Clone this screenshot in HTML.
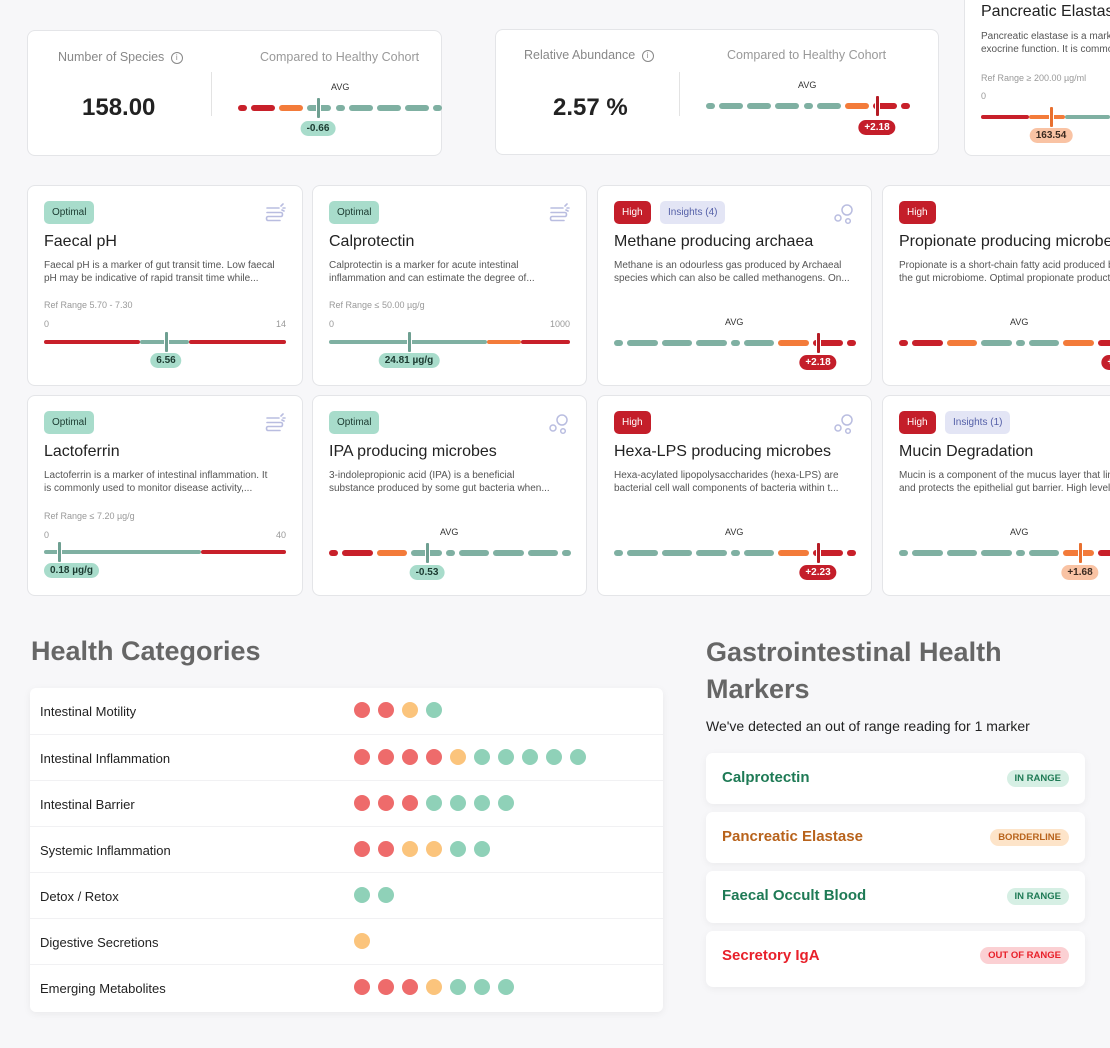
<!DOCTYPE html>
<html><head><meta charset="utf-8">
<style>
*{box-sizing:border-box;margin:0;padding:0}
body{width:1110px;height:1048px;overflow:hidden;background:#f7f7f9;font-family:"Liberation Sans",sans-serif;position:relative;color:#222}
.a{position:absolute}
.card{position:absolute;background:#fff;border:1px solid #e4e5e8;border-radius:8px}
.t{position:absolute;white-space:nowrap}
.badge{position:absolute;height:23px;line-height:23px;padding:0 8px;border-radius:5px;font-size:10px}
.pill{position:absolute;height:15px;line-height:15px;padding:0 6px;border-radius:8px;font-size:10px;font-weight:bold;white-space:nowrap}
.seg{position:absolute;height:6px;border-radius:3px}
.mk{position:absolute;width:3px;height:20px;border-radius:1px}
.desc{position:absolute;font-size:10px;line-height:12.5px;color:#555;white-space:nowrap}
.ttl{position:absolute;font-size:16px;color:#222;white-space:nowrap}
.gray{color:#999;font-size:9px}
.row{position:absolute;left:0;width:633px;height:46px;border-top:1px solid #f1f1f3}
.row span{position:absolute;left:10px;top:16px;font-size:13px;color:#222}
.dot{position:absolute;width:16px;height:16px;border-radius:50%;top:14px}
.mc{position:absolute;left:706px;width:379px;background:#fff;border-radius:7px;box-shadow:0 2px 8px rgba(0,0,0,.05)}
.mc b{position:absolute;left:16px;font-size:15px}
.mc i{position:absolute;right:16px;font-style:normal;font-size:9.5px;font-weight:bold;height:17px;line-height:17px;padding:0 8px;border-radius:9px}
</style></head><body>

<!-- top cards -->
<div class="card" style="left:27px;top:30px;width:415px;height:126px"></div>
<div class="t" style="left:58px;top:50px;font-size:12.5px;color:#888">Number of Species <span style="display:inline-block;width:12px;height:12px;border:1px solid #888;border-radius:50%;font-size:8px;text-align:center;line-height:10px;vertical-align:middle;margin-left:3px">i</span></div>
<div class="t" style="left:82px;top:94px;font-size:24px;font-weight:bold;color:#222">158.00</div>
<div class="a" style="left:211px;top:72px;width:1px;height:44px;background:#e3e3e3"></div>
<div class="t" style="left:260px;top:50px;font-size:12.5px;color:#999">Compared to Healthy Cohort</div>
<div class="t" style="left:331px;top:82px;font-size:9px;color:#333">AVG</div>

<div class="card" style="left:495px;top:29px;width:444px;height:126px"></div>
<div class="t" style="left:524px;top:48px;font-size:12.5px;color:#888">Relative Abundance <span style="display:inline-block;width:12px;height:12px;border:1px solid #888;border-radius:50%;font-size:8px;text-align:center;line-height:10px;vertical-align:middle;margin-left:3px">i</span></div>
<div class="t" style="left:553px;top:94px;font-size:24px;font-weight:bold;color:#222">2.57 %</div>
<div class="a" style="left:679px;top:72px;width:1px;height:44px;background:#e3e3e3"></div>
<div class="t" style="left:727px;top:48px;font-size:12.5px;color:#999">Compared to Healthy Cohort</div>
<div class="t" style="left:798px;top:80px;font-size:9px;color:#333">AVG</div>

<div class="card" style="left:964px;top:-20px;width:170px;height:176px"></div>
<div class="ttl" style="left:981px;top:3px">Pancreatic Elastase</div>
<div class="desc" style="left:981px;top:31px">Pancreatic elastase is a marker of<br>exocrine function. It is commonly</div>
<div class="t gray" style="left:981px;top:73px">Ref Range ≥ 200.00 µg/ml</div>
<div class="t gray" style="left:981px;top:91px">0</div>

<!-- Health categories -->
<div class="t" style="left:31px;top:636px;font-size:27px;font-weight:bold;color:#666">Health Categories</div>
<div class="a" style="left:30px;top:688px;width:633px;height:324px;background:#fff;border-radius:6px;box-shadow:0 2px 8px rgba(0,0,0,.06)" id="tbl"></div>

<div class="t" style="left:706px;top:634px;font-size:27px;font-weight:bold;color:#666;line-height:37px">Gastrointestinal Health<br>Markers</div>
<div class="t" style="left:706px;top:718px;font-size:14px;color:#222">We've detected an out of range reading for 1 marker</div>
<div class="mc" style="top:753px;height:51px"><b style="top:16px;color:#1e7a55">Calprotectin</b><i style="top:17px;background:#d6efe4;color:#1e7a55">IN RANGE</i></div>
<div class="mc" style="top:812px;height:51px"><b style="top:16px;color:#b8631c">Pancreatic Elastase</b><i style="top:17px;background:#fde4c9;color:#b8631c">BORDERLINE</i></div>
<div class="mc" style="top:871px;height:52px"><b style="top:16px;color:#1e7a55">Faecal Occult Blood</b><i style="top:17px;background:#d6efe4;color:#1e7a55">IN RANGE</i></div>
<div class="mc" style="top:931px;height:56px"><b style="top:16px;color:#e8202a">Secretory IgA</b><i style="top:16px;background:#fbd0d3;color:#e8202a">OUT OF RANGE</i></div>

<script>
var R='#c8202a',O='#f37b3a',T='#7fb0a2',B=document.body;
var MK={t:'#6e9f91',r:'#b51c25',o:'#e8702f'};
var PL={t:['#a8dccb','#1b3a30'],r:['#c41e2a','#fff'],o:['#f9c3a4','#3a2a20']};
function el(h){B.insertAdjacentHTML('beforeend',h)}
function pill(cx,y,txt,k,align){var p=PL[k];var pos=align=='l'?'left:'+cx+'px':'left:'+cx+'px;transform:translateX(-50%)';
 el('<div class="pill" style="'+pos+';top:'+(y-7)+'px;background:'+p[0]+';color:'+p[1]+'">'+txt+'</div>')}
function marker(x,y,k){el('<div class="mk" style="left:'+(x-1.5)+'px;top:'+(y-10)+'px;background:'+MK[k]+';box-shadow:0 0 0 1px #fff"></div>')}
function avg(x,y,w,cols,mx,k,lab,ly){var d=9,g=4,L=(w-3*d-8*g)/6,cx=x;
 var ty=[0,1,1,1,0,1,1,1,0];
 for(var i=0;i<9;i++){var ww=ty[i]?L:d;el('<div class="seg" style="left:'+cx+'px;top:'+(y-3)+'px;width:'+ww+'px;background:'+cols[i]+'"></div>');cx+=ww+g}
 marker(mx,y,k);pill(mx,ly||y+19,lab,k)}
function rng(y,secs,mx,k,lab,al){secs.forEach(function(s){el('<div class="a" style="left:'+s[0]+'px;top:'+(y-2)+'px;width:'+(s[1]-s[0])+'px;height:4px;border-radius:2px;background:'+s[2]+'"></div>')});
 marker(mx,y,k);pill(al=='l'?mx-15:mx,y+18,lab,k,al)}
avg(238,108,204,[R,R,O,T,T,T,T,T,T],318,'t','-0.66',128);
avg(706,106,204,[T,T,T,T,T,T,O,R,R],877,'r','+2.18',127);
rng(117,[[981,1029,R],[1029,1065,O],[1065,1110,T]],1051,'o','163.54');

function icon(x,y,type){
 if(type=='g')el('<svg class="a" style="left:'+(x-12)+'px;top:'+(y-10)+'px" width="24" height="22" viewBox="0 0 24 22" fill="none" stroke="#b9bde0" stroke-width="1.6" stroke-linecap="round"><path d="M4 5h12M4 9.5h14c2 0 2 4 0 4H5c-2 0-2 4 0 4h12"/><path d="M18 3l2-2M20 5h2M19 7l2 1"/></svg>');
 else el('<svg class="a" style="left:'+(x-12)+'px;top:'+(y-11)+'px" width="24" height="24" viewBox="0 0 24 24" fill="none" stroke="#b9bde0" stroke-width="1.5"><circle cx="15" cy="8" r="5"/><circle cx="6" cy="16" r="3"/><circle cx="16" cy="19" r="2.3"/></svg>');}
function card(x,y,w,badges,ic,title,desc){
 el('<div class="card" style="left:'+x+'px;top:'+y+'px;width:'+w+'px;height:'+201+'px"></div>');
 var bx=x+17;badges.forEach(function(b){var s=b=='Optimal'?'background:#a8dccb;color:#1b3a30':b=='High'?'background:#c41e2a;color:#fff':'background:#e3e5f5;color:#5560a8';
  el('<div class="badge" style="left:'+bx+'px;top:'+(y+16)+'px;'+s+'">'+b+'</div>');bx+=b=='Optimal'?59:b=='High'?46:76});
 if(ic)icon(x+w-28,y+28,ic);
 el('<div class="ttl" style="left:'+(x+17)+'px;top:'+(y+48)+'px">'+title+'</div>');
 el('<div class="desc" style="left:'+(x+17)+'px;top:'+(y+75)+'px">'+desc+'</div>')}
function avgTxt(cx,y){el('<div class="t" style="left:'+(cx-10)+'px;top:'+(y-5)+'px;font-size:9px;color:#333">AVG</div>')}
function refTxt(x,y,txt,max,xr){el('<div class="t gray" style="left:'+x+'px;top:'+(y-5)+'px">'+txt+'</div>');
 el('<div class="t gray" style="left:'+x+'px;top:'+(y+14)+'px">0</div>');
 el('<div class="t gray" style="left:'+(xr-40)+'px;width:40px;text-align:right;top:'+(y+14)+'px">'+max+'</div>')}
card(27,185,276,['Optimal'],'g','Faecal pH','Faecal pH is a marker of gut transit time. Low faecal<br>pH may be indicative of rapid transit time while...');
refTxt(44,305,'Ref Range 5.70 - 7.30','14',286);
rng(342,[[44,140,R],[140,189,T],[189,286,R]],166,'t','6.56');
card(312,185,275,['Optimal'],'g','Calprotectin','Calprotectin is a marker for acute intestinal<br>inflammation and can estimate the degree of...');
refTxt(329,305,'Ref Range ≤ 50.00 µg/g','1000',570);
rng(342,[[329,487,T],[487,521,O],[521,570,R]],409,'t','24.81 µg/g');
card(597,185,275,['High','Insights (4)'],'b','Methane producing archaea','Methane is an odourless gas produced by Archaeal<br>species which can also be called methanogens. On...');
avgTxt(735,322);avg(614,343,242,[T,T,T,T,T,T,O,R,R],818,'r','+2.18');
card(882,185,275,['High'],'b','Propionate producing microbes','Propionate is a short-chain fatty acid produced by<br>the gut microbiome. Optimal propionate production');
avgTxt(1020,322);avg(899,343,242,[R,R,O,T,T,T,O,R,R],1120,'r','+2.20');
card(27,395,276,['Optimal'],'g','Lactoferrin','Lactoferrin is a marker of intestinal inflammation. It<br>is commonly used to monitor disease activity,...');
refTxt(44,516,'Ref Range ≤ 7.20 µg/g','40',286);
rng(552,[[44,201,T],[201,286,R]],59,'t','0.18 µg/g','l');
card(312,395,275,['Optimal'],'b','IPA producing microbes','3-indolepropionic acid (IPA) is a beneficial<br>substance produced by some gut bacteria when...');
avgTxt(450,532);avg(329,553,242,[R,R,O,T,T,T,T,T,T],427,'t','-0.53');
card(597,395,275,['High'],'b','Hexa-LPS producing microbes','Hexa-acylated lipopolysaccharides (hexa-LPS) are<br>bacterial cell wall components of bacteria within t...');
avgTxt(735,532);avg(614,553,242,[T,T,T,T,T,T,O,R,R],818,'r','+2.23');
card(882,395,275,['High','Insights (1)'],'b','Mucin Degradation','Mucin is a component of the mucus layer that lines<br>and protects the epithelial gut barrier. High levels');
avgTxt(1020,532);avg(899,553,242,[T,T,T,T,T,T,O,R,R],1080,'o','+1.68');
var rows=[['Intestinal Motility','rroe'],['Intestinal Inflammation','rrrroeeeee'],['Intestinal Barrier','rrreeee'],['Systemic Inflammation','rrooee'],['Detox / Retox','ee'],['Digestive Secretions','o'],['Emerging Metabolites','rrroeee']];
var DC={r:'#ee6b6b',o:'#fbc47c',e:'#8fd1b8'},h='';
rows.forEach(function(r,i){h+='<div class="row" style="top:'+(i*46)+'px;'+(i==0?'border-top:none':'')+'"><span>'+r[0]+'</span>';
 for(var j=0;j<r[1].length;j++)h+='<div class="dot" style="left:'+(324+j*24)+'px;background:'+DC[r[1][j]]+'"></div>';h+='</div>'});
document.getElementById('tbl').innerHTML=h;
</script>
</body></html>
